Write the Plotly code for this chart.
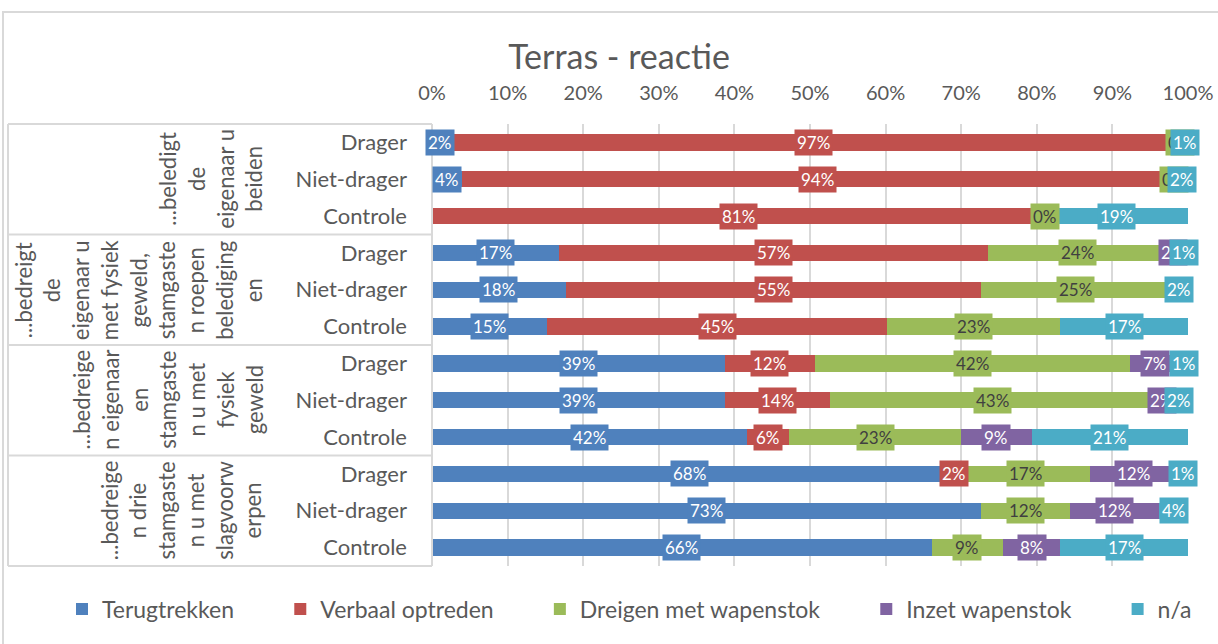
import plotly.graph_objects as go

# ---------------- data ----------------
group_lines = [
    ["...beledigt", "de", "eigenaar u", "beiden"],
    ["...bedreigt", "de", "eigenaar u", "met fysiek", "geweld,", "stamgaste", "n roepen", "belediging", "en"],
    ["...bedreige", "n eigenaar", "en", "stamgaste", "n u met", "fysiek", "geweld"],
    ["...bedreige", "n drie", "stamgaste", "n u met", "slagvoorw", "erpen"],
]
conditions = ["Drager", "Niet-drager", "Controle"]

series_names = ["Terugtrekken", "Verbaal optreden", "Dreigen met wapenstok", "Inzet wapenstok", "n/a"]
series_colors = ["#4F81BD", "#C0504D", "#9BBB59", "#8064A2", "#4BACC6"]
label_font_colors = ["white", "white", "#404040", "white", "white"]

terugtrekken = [2.2, 4.0, None, 16.8, 17.7, 15.2, 38.8, 38.8, 41.6, 68.0, 72.6, 66.1]
verbaal = [96.6, 94.0, 81.0, 56.8, 54.9, 45.0, 11.8, 13.9, 5.6, 2.0, None, None]
dreigen = [0.3, 0.3, 0.2, 23.6, 25.0, 22.9, 41.7, 42.8, 22.8, 17.0, 11.8, 9.4]
inzet = [None, None, None, 1.7, None, None, 6.6, 2.1, 9.3, 11.6, 11.8, 7.6]
na = [0.9, 1.7, 18.8, 1.1, 2.4, 16.9, 1.1, 2.4, 20.7, 1.4, 3.8, 16.9]
series_values = [terugtrekken, verbaal, dreigen, inzet, na]

x_ticks = list(range(0, 101, 10))

# ---------------- layout geometry ----------------
W, H = 1218, 644
L, R, T, B = 432, 30, 124, 78
PW, PH = W - L - R, H - T - B


def px_x(px):
    return (px - L) / PW


def px_y(py):
    return (H - B - py) / PH


row_ids = [f"{c}|{g}" for g in range(len(group_lines)) for c in conditions]
row_text = [c for g in range(len(group_lines)) for c in conditions]

NBSP = "\u00a0"
fig = go.Figure()
for k, (name, color, vals) in enumerate(zip(series_names, series_colors, series_values)):
    pad = NBSP * 7 if k < len(series_names) - 1 else ""
    fig.add_trace(go.Bar(
        y=row_ids, x=vals, name=name + pad, orientation="h",
        marker=dict(color=color, line=dict(width=0)),
        hoverinfo="skip",
    ))

# data labels (boxed, like Excel)
annotations = []
cum = [0.0] * len(row_ids)
for vals, color, fcol in zip(series_values, series_colors, label_font_colors):
    for i, v in enumerate(vals):
        if v is None:
            continue
        center = cum[i] + v / 2
        cum[i] += v
        annotations.append(dict(
            x=center, y=row_ids[i], xref="x", yref="y",
            text=f"{round(v)}%", showarrow=False,
            bgcolor=color, borderpad=2,
            font=dict(family="Lato", size=17, color=fcol),
        ))

# group labels (rotated, wrapped)
for g, lines in enumerate(group_lines):
    annotations.append(dict(
        x=px_x(269), xref="paper", xanchor="right",
        y=row_ids[3 * g + 1], yref="y", yanchor="middle",
        text="<br>".join(lines), textangle=-90, showarrow=False,
        align="center",
        font=dict(family="Lato", size=22.1, color="#595959"),
    ))

shapes = []
line_style = dict(color="#D9D9D9", width=2)
for k in range(len(group_lines) + 1):
    shapes.append(dict(type="line", xref="paper", yref="paper",
                       x0=px_x(8), x1=0, y0=k / len(group_lines), y1=k / len(group_lines),
                       line=line_style))
shapes.append(dict(type="line", xref="paper", yref="paper",
                   x0=px_x(8), x1=px_x(8), y0=0, y1=1, line=line_style))
shapes.append(dict(type="line", xref="paper", yref="paper",
                   x0=0, x1=0, y0=0, y1=1, line=line_style))
# chart outer frame
shapes.append(dict(type="rect", xref="paper", yref="paper",
                   x0=px_x(3), x1=px_x(1240), y0=px_y(12), y1=px_y(670),
                   line=line_style, fillcolor="rgba(0,0,0,0)", layer="below"))

fig.update_layout(
    width=W, height=H,
    margin=dict(l=L, r=R, t=T, b=B, autoexpand=False),
    paper_bgcolor="white", plot_bgcolor="white",
    barmode="stack", bargap=0.56,
    font=dict(family="Lato", color="#595959"),
    title=dict(text="Terras - reactie", x=619 / W, xref="container", xanchor="center",
               y=1 - 57 / H, yref="container", yanchor="middle",
               font=dict(family="Lato", size=34, color="#595959")),
    xaxis=dict(range=[0, 100], side="top", tickvals=x_ticks,
               ticktext=[f"{t}%" for t in x_ticks],
               showgrid=True, gridcolor="#D9D9D9", gridwidth=2,
               zeroline=False, showline=False, ticks="",
               ticklabelstandoff=19, automargin=False,
               tickfont=dict(family="Lato", size=20, color="#595959")),
    yaxis=dict(type="category", categoryarray=row_ids, autorange="reversed",
               tickvals=row_ids, ticktext=row_text, ticks="",
               showgrid=False, zeroline=False, showline=False,
               ticklabelstandoff=24, automargin=False,
               tickfont=dict(family="Lato", size=22, color="#595959")),
    legend=dict(orientation="h", xref="paper", yref="paper",
                x=px_x(62), xanchor="left",
                y=px_y(609), yanchor="middle", traceorder="normal",
                itemwidth=30,
                font=dict(family="Lato", size=23, color="#595959")),
    annotations=annotations,
    shapes=shapes,
    showlegend=True,
)

fig.write_html("out.html", config={"displayModeBar": False},
               post_script="document.body.style.margin='0';")
